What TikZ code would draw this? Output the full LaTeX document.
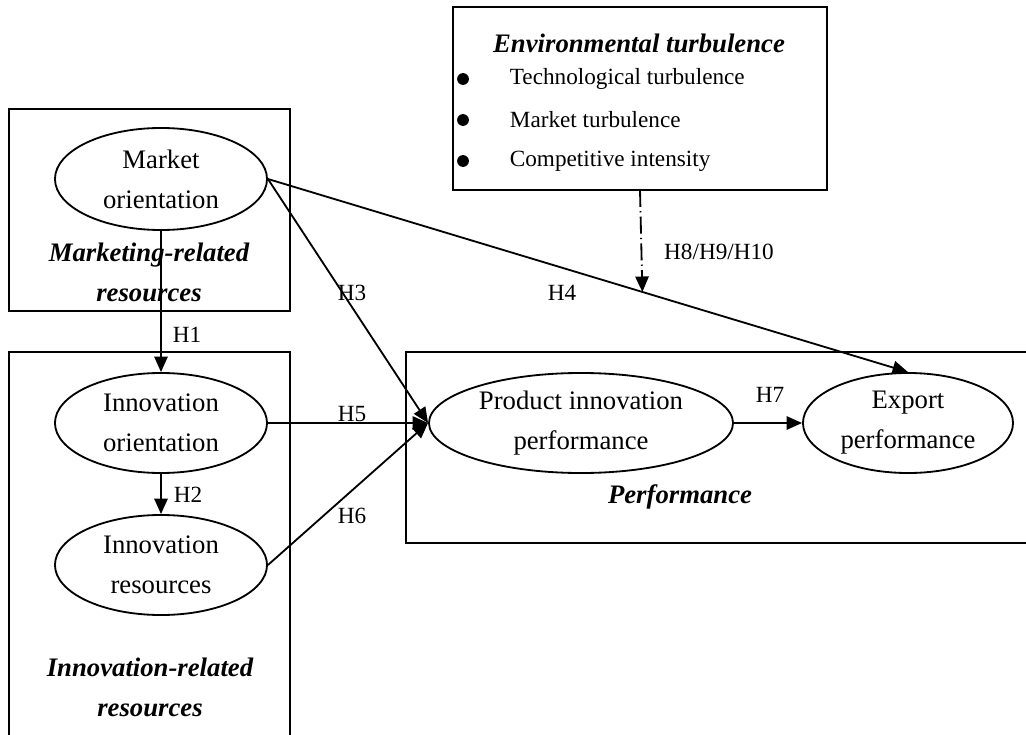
\documentclass[tikz,border=0pt]{standalone}
\usepackage{fontspec}
\setmainfont{Liberation Serif}
\usepackage{tikz}
\usetikzlibrary{shapes.geometric,arrows.meta}

\newcommand{\bigtxt}{\fontsize{19}{28.4}\selectfont}
\newcommand{\smalltxt}{\fontsize{16.5}{20}\selectfont}

\begin{document}
\begin{tikzpicture}[x=0.025cm,y=-0.025cm,line width=1.3pt,
    construct/.style={draw,ellipse,inner sep=0pt,align=center,font=\bigtxt,
        minimum width=5.3cm,minimum height=2.5cm},
    heading/.style={align=center,font=\bigtxt\bfseries\itshape},
    hyp/.style={font=\smalltxt,inner sep=0pt},
    link/.style={-{Triangle[length=11pt,width=9.5pt]}}]
    \useasboundingbox (0,0) rectangle (1026,735);
    \clip (0,0) rectangle (1026,735);

    % Draw the group boxes
    \draw (453,7) rectangle (827,190);
    \draw (9,109) rectangle (290,311);
    \draw (9,352) rectangle (290,760);
    \draw (406,352) rectangle (1040,543);

    % Environmental turbulence and its three items
    \node[heading] (envt) at (639,43) {Environmental turbulence};
    \foreach \y/\txt in {79/Technological turbulence, 120/Market turbulence, 161/Competitive intensity} {
        \fill (463,\y) circle (4.2pt);
        \node[anchor=west,font=\smalltxt,inner sep=0pt] (env\y) at (509,\y) {\txt};
    }
    \coordinate (envb) at (640,190);

    % Draw the constructs
    \node[construct,minimum height=2.55cm] (mo) at (161,179) {Market\\orientation};
    \node[construct] (io) at (161,423) {Innovation\\orientation};
    \node[construct] (ir) at (161,565) {Innovation\\resources};
    \node[construct,minimum width=7.6cm] (pip) at (581,423) {Product innovation\\performance};
    \node[construct,minimum width=5.25cm] (ep) at (908,423) {Export\\performance};

    % Group headings
    \node[heading] (mkt) at (149,272) {Marketing-related\\resources};
    \node[heading] (inn) at (150,687) {Innovation-related\\resources};
    \node[heading] (perf) at (680,497) {Performance};

    % Draw the hypothesised paths
    \draw[link] (mo.south) -- (io.north);
    \draw[link] (io.south) -- (ir.north);
    \draw[link] (mo.east) -- (pip.west);
    \draw[link] (mo.east) -- coordinate[pos=0.585] (mod) (ep.north);
    \draw[link] (io.east) -- (pip.west);
    \draw[link] (ir.east) -- (pip.west);
    \draw[link] (pip.east) -- (ep.west);
    \draw[link,dash pattern=on 12pt off 3pt on 1pt off 3pt] (envb) -- (mod);

    % Labels H1 to H10
    \node[hyp] (h1) at (187,335) {H1};
    \node[hyp] (h2) at (188,495) {H2};
    \node[hyp] (h3) at (352,293) {H3};
    \node[hyp] (h4) at (562,293) {H4};
    \node[hyp] (h5) at (352,414) {H5};
    \node[hyp] (h6) at (352,516) {H6};
    \node[hyp] (h7) at (770,395) {H7};
    \node[hyp] (h8) at (719,252) {H8/H9/H10};
\end{tikzpicture}
\end{document}
